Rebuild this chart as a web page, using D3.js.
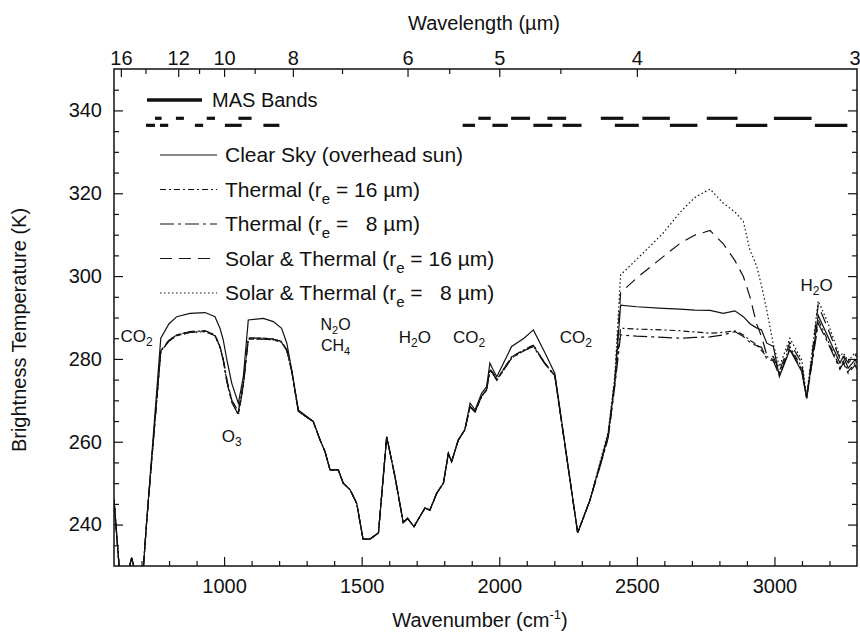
<!DOCTYPE html>
<html>
<head>
<meta charset="utf-8">
<script src="https://cdn.jsdelivr.net/npm/d3@7"></script>
<style>
  body { margin: 0; background: #fff; }
  svg text { font-family: "Liberation Sans", Arial, sans-serif; fill: #111; }
</style>
</head>
<body>
<div id="plot"></div>
<script>
// wavenumber grid (cm-1) shared by all curves
var wn = [600, 622, 642, 664, 686, 706, 719, 770, 800, 828,
          876, 931, 967, 985, 997, 1010, 1028, 1052, 1070, 1088,
          1143, 1179, 1209, 1228, 1246, 1270, 1324, 1349, 1367, 1385,
          1415, 1433, 1458, 1482, 1505, 1530, 1561, 1591, 1621, 1651,
          1667, 1690, 1730, 1748, 1773, 1797, 1815, 1827, 1851, 1875,
          1894, 1912, 1936, 1954, 1966, 1978, 1991, 2045, 2090, 2124,
          2166, 2202, 2285, 2330, 2366, 2396, 2420, 2441, 2499, 2596,
          2657, 2711, 2766, 2814, 2856, 2887, 2911, 2935, 2953, 2972,
          2996, 3018, 3056, 3099, 3117, 3159, 3190, 3238, 3250, 3268,
          3293, 3300];

var clearSky = [246, 227, 226, 232, 226, 229, 241, 285, 288.5, 290.2,
                291, 291.2, 290.2, 287.4, 284.6, 279.8, 274.1, 269.3, 275.7, 289.4,
                289.8, 289, 287.4, 283.8, 277.3, 267.7, 264.9, 260.4, 257.6, 253.2,
                253.2, 250, 248.4, 245.1, 236.5, 236.5, 238, 261.2, 251.6, 240.5,
                241.5, 239.5, 244, 243.5, 247.6, 250, 257.2, 255.2, 260.4, 262.9,
                269.3, 267.7, 271.7, 273.3, 279, 277.3, 275.7, 283, 285, 287,
                281.5, 276.5, 238, 246, 254.5, 262, 274.5, 293, 292.6, 292.2,
                292, 291.8, 291.7, 291, 291.6, 290.2, 288.5, 287.5, 287, 283.8,
                283, 275.7, 282.2, 277, 270.5, 290.5, 286, 279, 280.6, 277.8,
                279.8, 279];

var thermal16 = [246, 227, 226, 232, 226, 229, 241, 282, 284.5, 285.8,
                 286.6, 286.8, 285.8, 283, 280, 275, 270, 267.3, 274, 285,
                 285, 284.8, 284.2, 282.2, 277, 267.3, 264.9, 260.4, 257.6, 253.2,
                 253.2, 250, 248.4, 245.1, 236.5, 236.5, 238, 261.2, 251.6, 240.5,
                 241.5, 239.5, 244, 243.5, 247.6, 250, 257.2, 255.2, 260.4, 262.9,
                 268.5, 267.2, 271, 272.5, 277.5, 276.5, 275, 280.5, 282.2, 283.3,
                 279, 276, 238, 246, 254, 261, 274, 287.4, 287.2, 287,
                 286.8, 286.5, 286.2, 286.4, 286.8, 285.8, 284.5, 283.5, 282, 280.6,
                 279.8, 276.5, 283, 278, 270.5, 289.5, 285, 278, 279.5, 277,
                 279, 278];

var thermal8 = [246, 227, 226, 232, 226, 229, 241, 281.8, 284.3, 285.6,
                286.4, 286.6, 285.6, 282.8, 279.6, 274.5, 269.5, 266.5, 273.5, 284.8,
                284.8, 284.6, 284, 282, 277, 267.3, 264.9, 260.4, 257.6, 253.2,
                253.2, 250, 248.4, 245.1, 236.5, 236.5, 238, 261.2, 251.6, 240.5,
                241.5, 239.5, 244, 243.5, 247.6, 250, 257.2, 255.2, 260.4, 262.9,
                268.5, 267.2, 271, 272.5, 277.3, 276.3, 274.8, 280.2, 282, 283,
                278.8, 275.8, 238, 246, 254, 261, 273.5, 285.8, 285.5, 285.2,
                285, 285.2, 285.3, 285.8, 286.6, 285.4, 284, 283.2, 282.8, 280,
                279.5, 276, 282.5, 277.5, 270.5, 288.5, 284.5, 277.5, 279, 276.5,
                278.5, 277.5];

var solar16 = [246, 227, 226, 232, 226, 229, 241, 282, 284.5, 285.8,
               286.6, 286.8, 285.8, 283, 280, 275, 270, 267.3, 274, 285,
               285, 284.8, 284.2, 282.2, 277, 267.3, 264.9, 260.4, 257.6, 253.2,
               253.2, 250, 248.4, 245.1, 236.5, 236.5, 238, 261.2, 251.6, 240.5,
               241.5, 239.5, 244, 243.5, 247.6, 250, 257.2, 255.2, 260.4, 262.9,
               268.5, 267.2, 271, 272.5, 277.5, 276.5, 275, 280.5, 282.2, 283.3,
               279, 276, 238, 246, 254.5, 261.5, 275, 296, 299.5, 304.7,
               307.9, 309.9, 311, 307.8, 303.8, 299.9, 295, 288.5, 285.4, 281,
               280.5, 277, 284, 279, 270.5, 293, 288, 280, 281, 279,
               281, 280.5];

var solar8 = [246, 227, 226, 232, 226, 229, 241, 281.8, 284.3, 285.6,
              286.4, 286.6, 285.6, 282.8, 279.6, 274.5, 269.5, 266.5, 273.5, 284.8,
              284.8, 284.6, 284, 282, 277, 267.3, 264.9, 260.4, 257.6, 253.2,
              253.2, 250, 248.4, 245.1, 236.5, 236.5, 238, 261.2, 251.6, 240.5,
              241.5, 239.5, 244, 243.5, 247.6, 250, 257.2, 255.2, 260.4, 262.9,
              268.5, 267.2, 271, 272.5, 277.3, 276.3, 274.8, 280.2, 282, 283,
              278.8, 275.8, 238, 246, 255, 262.5, 276, 300.3, 304, 310.4,
              315.4, 319, 321, 317.6, 315.5, 313.2, 306.3, 302.5, 297.7, 291.8,
              283.5, 278.1, 285, 279.8, 271, 294, 289.4, 280.6, 281.5, 279.5,
              281.5, 281];

// MAS spectral bands (cm-1), two staggered rows
var bandsUpper = [[749, 773], [825, 854], [937, 967], [1052, 1100], [1924, 1969], [2043, 2112],
                  [2175, 2243], [2369, 2451], [2520, 2620], [2754, 2866], [2998, 3135]];
var bandsLower = [[716, 749], [767, 797], [894, 924], [1003, 1064], [1143, 1201], [1867, 1912],
                  [1975, 2031], [2124, 2193], [2230, 2299], [2420, 2507], [2620, 2720],
                  [2860, 2974], [3147, 3265]];
var bandLevels = [338.1, 336.4];

// tick labels
var xTicks = [1000, 1500, 2000, 2500, 3000];
var yTicks = [240, 260, 280, 300, 320, 340];
var wlLabels = [16, 12, 10, 8, 6, 5, 4, 3];
var wlMinor = [14, 11, 9, 7, 5.5, 4.5, 3.5];

var series = [
  { name: "Clear Sky (overhead sun)", vals: clearSky, dash: null },
  { name: "Thermal (r|e| = 16 \u00b5m)", vals: thermal16, dash: "6,3,2,3" },
  { name: "Thermal (r|e| =   8 \u00b5m)", vals: thermal8, dash: "14,4,3,4" },
  { name: "Solar & Thermal (r|e| = 16 \u00b5m)", vals: solar16, dash: "12,7" },
  { name: "Solar & Thermal (r|e| =   8 \u00b5m)", vals: solar8, dash: "1.5,2.5" }
];

var notes = [
  { t: "CO", s: "2", w: 682, v: 285.5, size: 17 },
  { t: "O", s: "3", w: 1028, v: 261.5, size: 17 },
  { t: "N", s: "2", t2: "O", w: 1405, v: 288.5, size: 16 },
  { t: "CH", s: "4", w: 1405, v: 283.3, size: 16 },
  { t: "H", s: "2", t2: "O", w: 1693, v: 285.3, size: 17 },
  { t: "CO", s: "2", w: 1890, v: 285.3, size: 17 },
  { t: "CO", s: "2", w: 2278, v: 285.3, size: 17 },
  { t: "H", s: "2", t2: "O", w: 3153, v: 297.8, size: 17 }
];

var W = 860, H = 634;
var L = 114, R = 857, T = 69, B = 566;

var svg = d3.select("#plot").append("svg")
    .attr("width", W).attr("height", H);

var x = d3.scaleLinear().domain([600, 3300]).range([L, R]);
var y = d3.scaleLinear().domain([230, 350]).range([B, T]);

svg.append("defs").append("clipPath").attr("id", "clip")
  .append("rect").attr("x", L).attr("y", T).attr("width", R - L).attr("height", B - T);

// axes, ticks pointing inward
function styleAxis(g) {
  g.select(".domain").remove();
  g.selectAll("line").attr("stroke", "#111").attr("stroke-width", 1.2);
  g.selectAll("text").style("font-family", "'Liberation Sans', Arial, sans-serif")
    .style("font-size", "20px").attr("fill", "#111");
}

var xMinor = d3.range(700, 3300, 100).filter(function (d) { return d % 500 !== 0; });
var yMinor = d3.range(235, 350, 5).filter(function (d) { return yTicks.indexOf(d) < 0; });

svg.append("g").attr("transform", "translate(0," + B + ")")
  .call(d3.axisBottom(x).tickValues(xTicks).tickSizeInner(-9).tickSizeOuter(0)
    .tickPadding(13).tickFormat(d3.format("d")))
  .call(styleAxis);
svg.append("g").attr("transform", "translate(0," + B + ")")
  .call(d3.axisBottom(x).tickValues(xMinor).tickSizeInner(-5).tickSizeOuter(0).tickFormat(""))
  .call(styleAxis);

svg.append("g").attr("transform", "translate(" + L + ",0)")
  .call(d3.axisLeft(y).tickValues(yTicks).tickSizeInner(-9).tickSizeOuter(0).tickPadding(12))
  .call(styleAxis);
svg.append("g").attr("transform", "translate(" + L + ",0)")
  .call(d3.axisLeft(y).tickValues(yMinor).tickSizeInner(-5).tickSizeOuter(0).tickFormat(""))
  .call(styleAxis);

svg.append("g").attr("transform", "translate(" + R + ",0)")
  .call(d3.axisRight(y).tickValues(yTicks).tickSizeInner(-9).tickSizeOuter(0).tickFormat(""))
  .call(styleAxis);
svg.append("g").attr("transform", "translate(" + R + ",0)")
  .call(d3.axisRight(y).tickValues(yMinor).tickSizeInner(-5).tickSizeOuter(0).tickFormat(""))
  .call(styleAxis);

// top axis in wavelength (um)
var topAx = svg.append("g").attr("transform", "translate(0," + T + ")")
  .call(d3.axisTop(x).tickValues(wlLabels.map(function (l) { return 1e4 / l; }))
    .tickSizeInner(-8).tickSizeOuter(0).tickPadding(4)
    .tickFormat(function (d) { return Math.round(1e4 / d); }))
  .call(styleAxis);
// the 3 um label sits past the right edge; pull it in so it stays readable
topAx.selectAll(".tick").filter(function (d) { return x(d) > W; })
  .select("text").attr("text-anchor", "end").attr("x", function (d) { return W - x(d); });
svg.append("g").attr("transform", "translate(0," + T + ")")
  .call(d3.axisTop(x).tickValues(wlMinor.map(function (l) { return 1e4 / l; }))
    .tickSizeInner(-5).tickSizeOuter(0).tickFormat(""))
  .call(styleAxis);

// frame
svg.append("rect").attr("x", L).attr("y", T).attr("width", R - L).attr("height", B - T)
  .attr("fill", "none").attr("stroke", "#111").attr("stroke-width", 1.5);

// axis titles
svg.append("text").attr("x", 484).attr("y", 30).attr("text-anchor", "middle")
  .style("font-size", "20px").text("Wavelength (\u00b5m)");

var xt = svg.append("text").attr("x", 480).attr("y", 627).attr("text-anchor", "middle")
  .style("font-size", "20px").text("Wavenumber (cm");
xt.append("tspan").attr("dy", -8).style("font-size", "13px").text("-1");
xt.append("tspan").attr("dy", 8).text(")");

svg.append("text").attr("transform", "translate(26," + 330 + ") rotate(-90)")
  .attr("text-anchor", "middle").style("font-size", "20px")
  .text("Brightness Temperature (K)");

// curves
var line = d3.line()
  .x(function (d) { return x(d[0]); })
  .y(function (d) { return y(d[1]); });

var plot = svg.append("g").attr("clip-path", "url(#clip)");
series.slice().reverse().forEach(function (s) {
  plot.append("path")
    .datum(wn.map(function (w, i) { return [w, s.vals[i]]; }))
    .attr("d", line)
    .attr("fill", "none")
    .attr("stroke", "#111")
    .attr("stroke-width", 1.2)
    .attr("stroke-dasharray", s.dash);
});

// MAS bands
[bandsUpper, bandsLower].forEach(function (rows, k) {
  svg.append("g").selectAll("line").data(rows).enter().append("line")
    .attr("x1", function (d) { return x(d[0]); })
    .attr("x2", function (d) { return x(d[1]); })
    .attr("y1", y(bandLevels[k])).attr("y2", y(bandLevels[k]))
    .attr("stroke", "#111").attr("stroke-width", 3.2);
});

svg.append("line").attr("x1", 147).attr("x2", 202).attr("y1", 100).attr("y2", 100)
  .attr("stroke", "#111").attr("stroke-width", 3.5);
svg.append("text").attr("x", 212).attr("y", 107).style("font-size", "20px").text("MAS Bands");

// legend
var leg = svg.append("g");
series.forEach(function (s, i) {
  var cy = 155 + i * 34.5;
  leg.append("line").attr("x1", 160).attr("x2", 217).attr("y1", cy).attr("y2", cy)
    .attr("stroke", "#111").attr("stroke-width", 1.2).attr("stroke-dasharray", s.dash);
  var parts = s.name.split("|");
  var t = leg.append("text").attr("x", 225).attr("y", cy + 7)
    .style("font-size", "21px").style("white-space", "pre").text(parts[0]);
  if (parts.length > 1) {
    t.append("tspan").attr("dy", 7).style("font-size", "15px").text(parts[1]);
    t.append("tspan").attr("dy", -7).text(parts[2]);
  }
});

// gas labels
notes.forEach(function (n) {
  var t = svg.append("text").attr("x", x(n.w)).attr("y", y(n.v) + 6)
    .attr("text-anchor", "middle").style("font-size", n.size + "px").text(n.t);
  t.append("tspan").attr("dy", 4).style("font-size", (n.size - 5) + "px").text(n.s);
  if (n.t2) t.append("tspan").attr("dy", -4).text(n.t2);
});
</script>
</body>
</html>
